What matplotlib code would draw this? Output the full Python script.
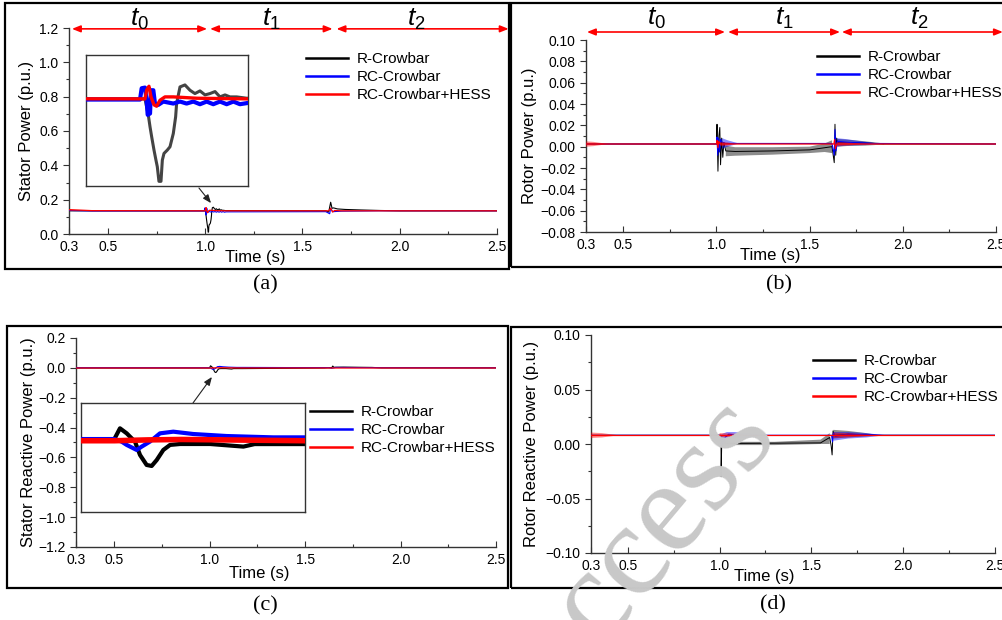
import numpy as np
import matplotlib.pyplot as plt
from matplotlib.patches import Rectangle
from matplotlib.lines import Line2D
from matplotlib.ticker import MultipleLocator, FixedLocator, FormatStrFormatter, FuncFormatter

plt.rcParams['font.family'] = ['Liberation Sans', 'DejaVu Sans']
plt.rcParams['mathtext.fontset'] = 'custom'
plt.rcParams['mathtext.it'] = 'Liberation Sans:italic'
plt.rcParams['mathtext.rm'] = 'Liberation Sans'

W, H = 1003, 620
nan = np.nan

series_names = ['R-Crowbar', 'RC-Crowbar', 'RC-Crowbar+HESS']
series_colors = ['black', '#0000ff', '#ff0000']
time_ticks = [0.3, 0.5, 1.0, 1.5, 2.0, 2.5]
time_minor = [0.75, 1.25, 1.75, 2.25]
stage_names = [r'$\mathit{t}_{\mathit{0}}$', r'$\mathit{t}_{\mathit{1}}$', r'$\mathit{t}_{\mathit{2}}$']
stages_a = [(0.315, 1.010), (1.025, 1.655), (1.675, 2.560)]
stages_b = [(0.305, 1.046), (1.062, 1.663), (1.673, 2.537)]

# (a) stator active power
a_t_r = [0.30, 1.0008, 1.0042, 1.0060, 1.0077, 1.0101, 1.0121, 1.0135, 1.0152, 1.0173,
         1.0187, 1.0204, 1.0238, 1.0266, 1.0300, 1.0324, 1.0334, 1.0369, 1.0420, 1.0472,
         1.0523, 1.0575, 1.0627, 1.0678, 1.0730, 1.0781, 1.0833, 1.0884, 1.0953, 1.1056,
         1.620, 1.635, 1.645, 1.652, 1.660, 1.680, 1.720, 1.800, 1.900, 2.000, 2.500]
a_r = [0.135, 0.135, 0.111, 0.093, 0.078, 0.058, 0.043, 0.033, 0.011, 0.011,
       0.043, 0.053, 0.058, 0.063, 0.083, 0.108, 0.128, 0.153, 0.156, 0.148,
       0.143, 0.147, 0.141, 0.143, 0.146, 0.138, 0.141, 0.138, 0.138, 0.136,
       0.135, 0.128, 0.185, 0.150, 0.152, 0.146, 0.143, 0.140, 0.137, 0.135, 0.135]
a_t_rc = [0.30, 0.42, 0.9957, 0.9974, 1.0008, 1.0025, 1.0036, 1.0060, 1.0070, 1.0094,
          1.0111, 1.0145, 1.0197, 1.0300, 1.0369, 1.0437, 1.0506, 1.0575, 1.0644, 1.0712,
          1.0781, 1.0850, 1.0919, 1.0987, 1.1073, 1.620, 1.640, 1.645, 1.655, 1.700,
          1.900, 2.500]
a_rc = [0.137, 0.134, 0.134, 0.151, 0.152, 0.133, 0.111, 0.113, 0.148, 0.148,
        0.128, 0.126, 0.131, 0.128, 0.131, 0.128, 0.131, 0.127, 0.131, 0.127,
        0.131, 0.127, 0.131, 0.127, 0.129, 0.130, 0.118, 0.150, 0.130, 0.133,
        0.135, 0.135]
a_t_hess = [0.30, 0.42, 1.0008, 1.0025, 1.0049, 1.0070, 1.0101, 1.0128, 1.0163, 1.0214,
            1.0300, 1.0540, 1.1070, 1.635, 1.645, 1.655, 1.665, 1.700, 2.500]
a_hess = [0.142, 0.136, 0.135, 0.148, 0.154, 0.138, 0.126, 0.124, 0.133, 0.138,
          0.138, 0.136, 0.135, 0.135, 0.150, 0.128, 0.137, 0.135, 0.135]
a_rip_t_hess = [0.30, 0.42]
a_rip_c_hess = [0.140, 0.136]
a_rip_a_hess = [0.003, 0.0]

# (b) rotor active power
b_t_r = [0.30, 1.000, 1.003, 1.008, 1.013, 1.018, 1.022, 1.028, 1.034, 1.040,
         1.050, 1.100, 1.300, 1.500, 1.580, 1.620, 1.632, 1.636, 1.640, 1.645,
         1.650, 1.700, 1.800, 1.900, 2.500]
b_r = [0.0025, 0.0025, 0.021, -0.023, 0.010, 0.018, -0.017, 0.008, -0.010, 0.004,
       -0.004, -0.0045, -0.004, -0.003, -0.001, 0.000, -0.015, 0.021, -0.008, 0.008,
       0.004, 0.004, 0.0035, 0.0025, 0.0025]
b_rip_t_r = [1.050, 1.100, 1.300, 1.500, 1.580, 1.620, nan, 1.650, 1.700, 1.800, 1.900]
b_rip_c_r = [-0.004, -0.0045, -0.004, -0.003, -0.001, 0.000, nan, 0.0036, 0.0036, 0.003, 0.0025]
b_rip_a_r = [0.005, 0.004, 0.0035, 0.003, 0.004, 0.006, nan, 0.0036, 0.003, 0.002, 0.0005]
b_t_rc = [0.30, 1.000, 1.003, 1.007, 1.012, 1.017, 1.022, 1.030, 1.050, 1.100,
          1.620, 1.632, 1.636, 1.641, 1.650, 1.700, 1.850, 2.500]
b_rc = [0.0025, 0.0025, 0.009, -0.008, 0.008, -0.005, 0.007, 0.004, 0.003, 0.003,
        0.003, -0.008, 0.016, -0.004, 0.005, 0.004, 0.003, 0.0025]
b_rip_t_rc = [1.030, 1.060, 1.110, nan, 1.645, 1.700, 1.800, 1.880]
b_rip_c_rc = [0.003, 0.003, 0.003, nan, 0.004, 0.004, 0.003, 0.0025]
b_rip_a_rc = [0.005, 0.003, 0.0005, nan, 0.004, 0.003, 0.0015, 0.0]
b_t_hess = [0.30, 1.000, 1.004, 1.008, 1.012, 1.020, 1.630, 1.634, 1.638, 1.645, 2.500]
b_hess = [0.0025, 0.0025, 0.006, -0.001, 0.005, 0.0025, 0.0025, 0.0065, -0.002, 0.0025, 0.0025]
b_rip_t_hess = [0.30, 0.34, 0.42, nan, 1.020, 1.060, 1.100, nan, 1.645, 1.700, 1.800]
b_rip_c_hess = [0.0025, 0.0025, 0.0025, nan, 0.0025, 0.0025, 0.0025, nan, 0.0025, 0.0025, 0.0025]
b_rip_a_hess = [0.0025, 0.002, 0.0, nan, 0.002, 0.0015, 0.0, nan, 0.002, 0.0015, 0.0]

# (c) stator reactive power
c_t_r = [0.30, 0.999, 1.0048, 1.0108, 1.0182, 1.0227, 1.0286, 1.0331, 1.0376, 1.0435,
         1.0495, 1.0584, 1.0852, 1.115, 1.125, 1.170, 1.400, 1.600, 1.640, 1.645,
         1.650, 1.700, 1.850, 1.900, 2.500]
c_r = [-0.001, -0.001, 0.0138, 0.0078, -0.0021, -0.018, -0.0299, -0.0311, -0.024, -0.012,
       -0.006, -0.0049, -0.0049, -0.008, -0.005, -0.005, -0.003, -0.001, 0.002, 0.012,
       0.004, 0.005, 0.003, 0.0, 0.0]
c_t_rc = [0.30, 1.000, 1.0063, 1.0108, 1.0197, 1.0242, 1.0316, 1.0405, 1.0524, 1.0703,
          1.100, 1.1417, 1.170, 1.400, 1.620, 1.640, 1.660, 1.900, 2.500]
c_rc = [0.001, 0.001, -0.0021, -0.006, -0.012, -0.008, -0.002, 0.0078, 0.0098, 0.007,
        0.0046, 0.003, 0.003, 0.002, 0.002, -0.003, 0.003, 0.001, 0.0]
c_t_hess = [0.30, 1.000, 1.030, 1.060, 1.170, 2.500]
c_hess = [-0.001, -0.001, 0.000, 0.0005, -0.001, -0.001]

# (d) rotor reactive power
d_t_r = [0.30, 1.008, 1.0085, 1.012, 1.020, 1.050, 1.550, 1.600, 1.608, 1.613,
         1.618, 1.625, 1.700, 1.850, 2.500]
d_r = [0.008, 0.008, -0.030, 0.002, 0.001, 0.0005, 0.001, 0.006, -0.002, -0.010,
       0.012, 0.008, 0.009, 0.008, 0.008]
d_rip_t_r = [1.010, 1.030, 1.060, 1.300, 1.550, 1.600, nan, 1.620, 1.700, 1.800, 1.870]
d_rip_c_r = [0.002, 0.001, 0.0005, 0.0005, 0.002, 0.005, nan, 0.009, 0.009, 0.0085, 0.008]
d_rip_a_r = [0.006, 0.003, 0.0015, 0.0015, 0.002, 0.005, nan, 0.004, 0.003, 0.0015, 0.0]
d_t_rc = [0.30, 1.008, 1.010, 1.015, 1.020, 1.030, 1.050, 1.100, 1.200, 1.610,
          1.615, 1.620, 1.630, 1.700, 1.900, 2.500]
d_rc = [0.008, 0.008, -0.001, 0.006, 0.000, 0.006, 0.009, 0.008, 0.008, 0.008,
        0.002, 0.010, 0.007, 0.009, 0.008, 0.008]
d_rip_t_rc = [1.010, 1.040, 1.080, 1.150, 1.250, nan, 1.620, 1.700, 1.800, 1.900]
d_rip_c_rc = [0.004, 0.007, 0.008, 0.008, 0.008, nan, 0.007, 0.008, 0.008, 0.008]
d_rip_a_rc = [0.005, 0.004, 0.003, 0.002, 0.0, nan, 0.004, 0.003, 0.002, 0.0]
d_t_hess = [0.30, 2.50]
d_hess = [0.008, 0.008]
d_rip_t_hess = [0.30, 0.36, 0.45, nan, 1.000, 1.080, 1.150, nan, 1.620, 1.700, 1.850]
d_rip_c_hess = [0.008, 0.008, 0.008, nan, 0.008, 0.008, 0.008, nan, 0.008, 0.008, 0.008]
d_rip_a_hess = [0.0025, 0.002, 0.0, nan, 0.002, 0.0015, 0.0, nan, 0.0025, 0.002, 0.0]


fig = plt.figure(figsize=(W / 100, H / 100), dpi=100)


def px_rect(x0, y0, x1, y1):
    return [x0 / W, 1 - y1 / H, (x1 - x0) / W, (y1 - y0) / H]


def frame(x0, y0, x1, y1):
    fig.add_artist(Rectangle((x0 / W, 1 - y1 / H), (x1 - x0) / W, (y1 - y0) / H,
                             transform=fig.transFigure, fill=False, lw=1.6, ec='black'))


def draw(ax, t, v, color, lw, z, rip=None):
    ax.plot(t, v, color=color, lw=lw, zorder=z)
    if rip is not None:
        rt, rc, ra = (np.array(x, float) for x in rip)
        ax.fill_between(rt, rc - ra, rc + ra, color=color, alpha=0.45, lw=0, zorder=z)


def style(ax, ylim, ystep, yminor, yfmt, ylabel, ylab_x, xlab_xy):
    ax.set_xlim(0.3, 2.5)
    ax.set_ylim(*ylim)
    for s in ['top', 'right']:
        ax.spines[s].set_visible(False)
    for s in ['left', 'bottom']:
        ax.spines[s].set_color('#333333')
        ax.spines[s].set_linewidth(1.0)
    ax.xaxis.set_major_locator(FixedLocator(time_ticks))
    ax.xaxis.set_minor_locator(FixedLocator(time_minor))
    ax.xaxis.set_major_formatter(FormatStrFormatter('%.1f'))
    ax.yaxis.set_major_locator(MultipleLocator(ystep))
    ax.yaxis.set_minor_locator(MultipleLocator(yminor))

    def fmt(v, pos):
        if abs(v) < 1e-9:
            v = 0.0
        return (yfmt % v).replace('-', '\u2212')
    ax.yaxis.set_major_formatter(FuncFormatter(fmt))
    ax.tick_params(axis='x', which='major', direction='in', length=4, width=0.8,
                   color='#333333', labelsize=10, pad=4)
    ax.tick_params(axis='x', which='minor', direction='in', length=2.5, width=0.8,
                   color='#333333')
    ax.tick_params(axis='y', which='major', direction='out', length=4.5, width=0.8,
                   color='#333333', labelsize=10, pad=3)
    ax.tick_params(axis='y', which='minor', direction='out', length=2.5, width=0.8,
                   color='#333333')
    ax.set_ylabel(ylabel, fontsize=12)
    ax.yaxis.set_label_coords(ylab_x, 0.5)
    ax.set_xlabel('Time (s)', fontsize=12)
    ax.xaxis.set_label_coords(*xlab_xy)


def legend(ax, x, y):
    handles = [Line2D([], [], color=c, lw=1.8) for c in series_colors]
    ax.legend(handles, series_names, loc='upper left', bbox_to_anchor=(x / W, 1 - y / H),
              bbox_transform=fig.transFigure, frameon=False, fontsize=11,
              handlelength=2.75, handletextpad=0.55, labelspacing=0.26,
              borderpad=0, borderaxespad=0)


def stage_arrows(ax, stages, y_arrow, y_text):
    for (s, e), name in zip(stages, stage_names):
        ax.annotate('', xy=(e, y_arrow), xytext=(s, y_arrow),
                    arrowprops=dict(arrowstyle='<|-|>,head_length=0.5,head_width=0.2',
                                    color='#ff0000', lw=1.2, shrinkA=0, shrinkB=0),
                    annotation_clip=False)
        ax.text((s + min(e, 2.5)) / 2, y_text, name, ha='center', va='center',
                fontsize=19, clip_on=False)


def inset(rect, xlim, ylim):
    ins = fig.add_axes(px_rect(*rect))
    ins.set_xlim(*xlim)
    ins.set_ylim(*ylim)
    ins.set_xticks([])
    ins.set_yticks([])
    for s in ins.spines.values():
        s.set_color('#333333')
        s.set_linewidth(1.0)
    return ins


def pointer(ax, start, end):
    ax.annotate('', xy=end, xytext=start,
                arrowprops=dict(arrowstyle='-|>,head_length=0.5,head_width=0.2',
                                color='#222222', lw=0.8, shrinkA=0, shrinkB=0),
                annotation_clip=False)


# panel frames
frame(5, 3, 509, 269)
frame(511, 3, 1010, 267)
frame(7, 326, 508, 588)
frame(511, 327, 1010, 588)

# (a)
ax = fig.add_axes(px_rect(69, 28, 497, 234))
draw(ax, a_t_r, a_r, series_colors[0], 0.8, 2)
draw(ax, a_t_rc, a_rc, series_colors[1], 0.8, 3)
draw(ax, a_t_hess, a_hess, series_colors[2], 0.9, 4, (a_rip_t_hess, a_rip_c_hess, a_rip_a_hess))
style(ax, (0, 1.2), 0.2, 0.1, '%.1f', 'Stator Power (p.u.)', -0.081, (0.435, -0.078))
legend(ax, 306, 52)
stage_arrows(ax, stages_a, 1.195, 1.250)
pointer(ax, (0.968, 0.268), (1.030, 0.18))
ins = inset((86, 55, 248, 186), (0.94, 1.107), (0.004, 0.201))
ins.plot(a_t_r, a_r, color='#444444', lw=2.2, zorder=2)
ins.plot(a_t_rc, a_rc, color=series_colors[1], lw=3.0, zorder=3)
ins.plot(a_t_hess, a_hess, color=series_colors[2], lw=2.4, zorder=4)

# (b)
ax = fig.add_axes(px_rect(586, 40, 996, 232))
draw(ax, b_t_r, b_r, series_colors[0], 0.7, 2, (b_rip_t_r, b_rip_c_r, b_rip_a_r))
draw(ax, b_t_rc, b_rc, series_colors[1], 0.8, 3, (b_rip_t_rc, b_rip_c_rc, b_rip_a_rc))
draw(ax, b_t_hess, b_hess, series_colors[2], 0.9, 4, (b_rip_t_hess, b_rip_c_hess, b_rip_a_hess))
style(ax, (-0.08, 0.10), 0.02, 0.01, '%.2f', 'Rotor Power (p.u.)', -0.120, (0.449, -0.084))
legend(ax, 817, 50)
stage_arrows(ax, stages_b, 0.1075, 0.1200)

# (c)
ax = fig.add_axes(px_rect(76, 338, 496, 547))
draw(ax, c_t_r, c_r, series_colors[0], 0.8, 2)
draw(ax, c_t_rc, c_rc, series_colors[1], 0.8, 3)
draw(ax, c_t_hess, c_hess, series_colors[2], 0.9, 4)
style(ax, (-1.2, 0.2), 0.2, 0.1, '%.1f', 'Stator Reactive Power (p.u.)', -0.095, (0.436, -0.090))
legend(ax, 310, 405)
pointer(ax, (0.913, -0.235), (1.012, -0.061))
ins = inset((81, 403, 305, 512), (0.97, 1.17), (-0.086, 0.044))
ins.plot(c_t_r, c_r, color='black', lw=3.0, zorder=2)
ins.plot(c_t_rc, c_rc, color=series_colors[1], lw=3.0, zorder=3)
ins.plot(c_t_hess, c_hess, color=series_colors[2], lw=4.0, zorder=4)

# (d)
ax = fig.add_axes(px_rect(591, 335, 995, 553))
draw(ax, d_t_r, d_r, series_colors[0], 0.7, 2, (d_rip_t_r, d_rip_c_r, d_rip_a_r))
draw(ax, d_t_rc, d_rc, series_colors[1], 0.8, 3, (d_rip_t_rc, d_rip_c_rc, d_rip_a_rc))
draw(ax, d_t_hess, d_hess, series_colors[2], 0.9, 4, (d_rip_t_hess, d_rip_c_hess, d_rip_a_hess))
style(ax, (-0.10, 0.10), 0.05, 0.025, '%.2f', 'Rotor Reactive Power (p.u.)', -0.129, (0.43, -0.072))
legend(ax, 813, 354)

# sub-figure captions
for x, y, cap in [(265, 285, '(a)'), (779, 285, '(b)'), (265, 606, '(c)'), (773, 605, '(d)')]:
    fig.text(x / W, 1 - y / H, cap, ha='center', va='center', fontsize=16,
             family='Liberation Serif')

# publisher watermark
fig.text(540 / W, 1 - 722 / H, 'Access', rotation=50, rotation_mode='anchor',
         ha='left', va='baseline', fontsize=95, family='Liberation Serif',
         color='#c8c8c8', zorder=100)

fig.savefig('out.png', dpi=100)
